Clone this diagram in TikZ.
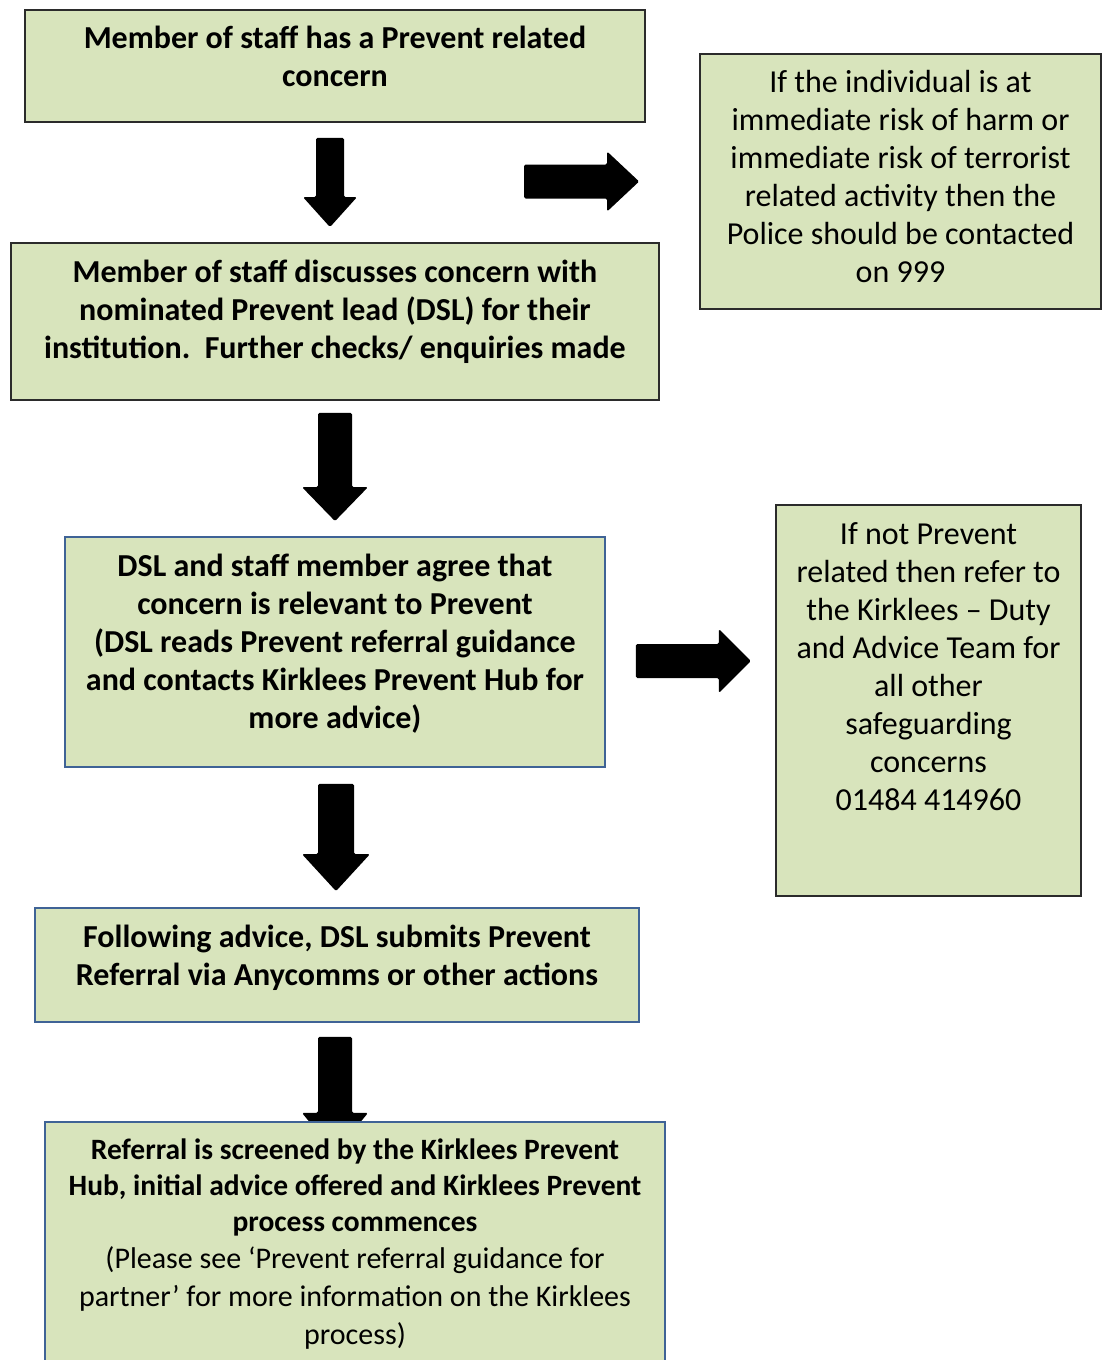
\documentclass[tikz,border=0pt]{standalone}
\usepackage{fontspec}
\setmainfont{Carlito}
\usetikzlibrary{calc}
\definecolor{boxfill}{HTML}{D8E4BC}
\definecolor{darkline}{HTML}{2B2B2B}
\definecolor{blueline}{HTML}{3F6396}
\tikzset{
  boxdark/.style={draw=darkline, line width=1.8pt, fill=boxfill, rectangle, inner sep=0pt},
  boxblue/.style={draw=blueline, line width=1.8pt, fill=boxfill, rectangle, inner sep=0pt},
  boxtext/.style={anchor=north, align=center, inner sep=0pt, text=black, font=\fontsize{32}{38}\selectfont},
  blockfill/.style={fill=black, rounded corners=1.5pt}
}
% down block arrow: #1 start, #2 tip, #3 shaft half width, #4 head half width, #5 head length
\newcommand\blkdown[5]{%
  \fill[blockfill] ($(#1)+(-#3,0)$) -- ($(#1)+(#3,0)$) -- ($(#2)+(#3,-#5)$) -- ($(#2)+(#4,-#5)$) -- (#2) -- ($(#2)+(-#4,-#5)$) -- ($(#2)+(-#3,-#5)$) -- cycle;}
\newcommand\blkright[5]{%
  \fill[blockfill] ($(#1)+(0,-#3)$) -- ($(#2)+(-#5,-#3)$) -- ($(#2)+(-#5,-#4)$) -- (#2) -- ($(#2)+(-#5,#4)$) -- ($(#2)+(-#5,#3)$) -- ($(#1)+(0,#3)$) -- cycle;}
\begin{document}
\begin{tikzpicture}[x=1pt,y=-1pt]
\useasboundingbox (0,0) rectangle (1104,1360);
\clip (0,0) rectangle (1104,1360);
\fill[white] (0,0) rectangle (1104,1360);

% boxes
\node[boxdark, minimum width=620pt, minimum height=112pt] (b1) at (335,66) {};
\node[boxdark, minimum width=648pt, minimum height=157pt] (b2) at (335,321.5) {};
\node[boxdark, minimum width=401pt, minimum height=255pt] (r1) at (900.5,181.5) {};
\node[boxblue, minimum width=540pt, minimum height=230pt] (b3) at (335,652) {};
\node[boxdark, minimum width=305pt, minimum height=391pt] (r2) at (928.5,700.5) {};
\node[boxblue, minimum width=604pt, minimum height=114pt] (b4) at (337,965) {};

% arrows
\coordinate (a1s) at ($(b1.south)+(-5,15)$);
\coordinate (a1e) at ($(b2.north)+(-5,-15)$);
\blkdown{a1s}{a1e}{14}{27}{30}
\coordinate (a2s) at ($(r1.west)+(-175,0)$);
\coordinate (a2e) at ($(r1.west)+(-60,0)$);
\blkright{a2s}{a2e}{17}{30}{32}
\coordinate (a3s) at ($(b2.south)+(0,12)$);
\coordinate (a3e) at ($(b3.north)+(0,-15)$);
\blkdown{a3s}{a3e}{17}{33}{34}
\coordinate (a4s) at ($(b3.east)+(30,9)$);
\coordinate (a4e) at ($(b3.east)+(145,9)$);
\blkright{a4s}{a4e}{17}{32}{32}
\coordinate (a5s) at ($(b3.south)+(1,16)$);
\coordinate (a5e) at ($(b4.north)+(-1,-16)$);
\blkdown{a5s}{a5e}{18}{34}{37}
\coordinate (a6s) at ($(b4.south)+(-2,14)$);
\coordinate (a6e) at ($(b4.south)+(-2,130)$);
\blkdown{a6s}{a6e}{17}{33}{40}

\node[boxblue, minimum width=620pt, minimum height=244pt] (b5) at (355,1244) {};

% texts
\node[boxtext] (t1) at ($(b1.north)+(0,17)$) {\bfseries Member of staff has a Prevent related\\\bfseries concern};
\node[boxtext] (t2) at ($(b2.north)+(0,18)$) {\bfseries Member of staff discusses concern with\\\bfseries nominated Prevent lead (DSL) for their\\\bfseries institution.\ \ Further checks/ enquiries made};
\node[boxtext] (tr1) at ($(r1.north)+(0,17)$) {If the individual is at\\immediate risk of harm or\\immediate risk of terrorist\\related activity then the\\Police should be contacted\\on 999};
\node[boxtext] (t3) at ($(b3.north)+(0,18)$) {\bfseries DSL and staff member agree that\\\bfseries concern is relevant to Prevent\\\bfseries (DSL reads Prevent referral guidance\\\bfseries and contacts Kirklees Prevent Hub for\\\bfseries more advice)};
\node[boxtext] (tr2) at ($(r2.north)+(0,18)$) {If not Prevent\\related then refer to\\the Kirklees – Duty\\and Advice Team for\\all other\\safeguarding\\concerns\\01484 414960};
\node[boxtext] (t4) at ($(b4.north)+(0,18)$) {\bfseries Following advice, DSL submits Prevent\\\bfseries Referral via Anycomms or other actions};
\node[boxtext, font=\fontsize{29.5}{36}\selectfont] (t5) at ($(b5.north)+(0,17)$) {\bfseries Referral is screened by the Kirklees Prevent\\\bfseries Hub, initial advice offered and Kirklees Prevent\\\bfseries process commences};
\node[boxtext, font=\fontsize{30}{38}\selectfont, anchor=north] (t6) at ($(t5.south)+(0,11)$) {(Please see ‘Prevent referral guidance for\\partner’ for more information on the Kirklees\\process)};
\end{tikzpicture}
\end{document}
